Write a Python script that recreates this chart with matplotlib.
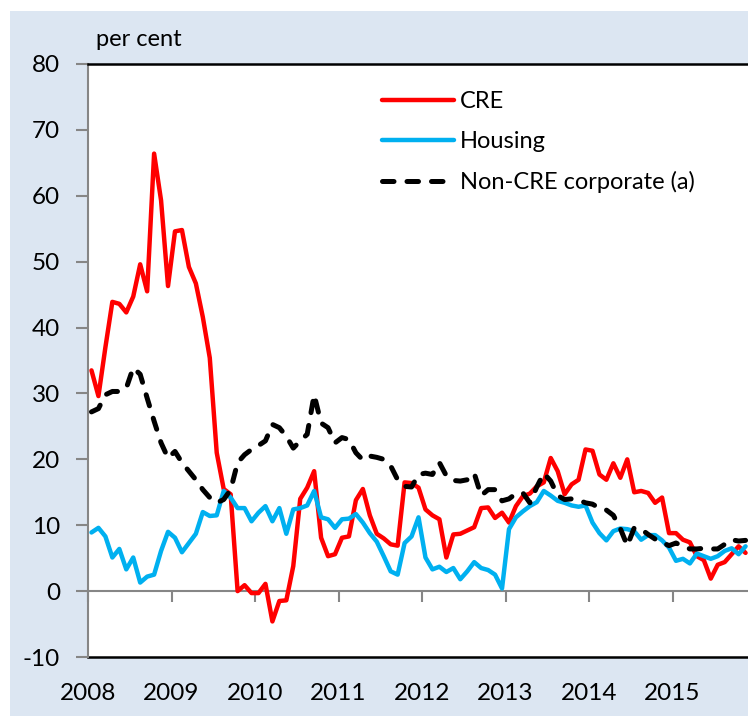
import numpy as np
import pandas as pd
import matplotlib
matplotlib.use('Agg')
import matplotlib.pyplot as plt
from matplotlib.patches import Rectangle

plt.rcParams['font.family'] = ['Lato', 'DejaVu Sans']
plt.rcParams['axes.unicode_minus'] = False

# Monthly series, Jan 2008 - Nov 2015 (per cent)
dates = pd.date_range('2008-01-01', periods=95, freq='MS')

cre = [33.5, 29.6, 37.0, 43.9, 43.6, 42.3, 44.7, 49.6, 45.5, 66.4, 59.3, 46.3,
       54.6, 54.8, 49.2, 46.7, 41.6, 35.4, 21.0, 15.5, 14.7, 0.0, 0.9, -0.3,
       -0.3, 1.1, -4.6, -1.5, -1.4, 3.8, 14.0, 15.7, 18.2, 8.1, 5.3, 5.6,
       8.1, 8.3, 13.8, 15.5, 11.5, 8.7, 8.0, 7.1, 6.9, 16.5, 16.4, 15.7,
       12.4, 11.5, 10.9, 5.1, 8.6, 8.7, 9.2, 9.7, 12.6, 12.7, 11.1, 11.9,
       10.4, 12.9, 14.4, 14.8, 15.9, 16.5, 20.2, 18.2, 14.7, 16.2, 16.9, 21.5,
       21.3, 17.7, 16.9, 19.4, 17.2, 20.0, 15.0, 15.2, 14.9, 13.4, 14.2, 8.8,
       8.8, 7.8, 7.4, 5.3, 4.7, 1.9, 4.0, 4.4, 5.6, 6.8, 5.8]

housing = [8.9, 9.6, 8.3, 5.1, 6.4, 3.3, 5.1, 1.3, 2.2, 2.5, 6.1, 9.0,
           8.1, 5.9, 7.3, 8.7, 12.0, 11.4, 11.5, 15.2, 14.2, 12.6, 12.6, 10.6,
           11.9, 12.9, 10.6, 12.6, 8.7, 12.4, 12.6, 13.0, 15.2, 11.2, 10.9, 9.6,
           10.9, 11.0, 11.7, 10.4, 8.8, 7.5, 5.3, 3.0, 2.5, 7.3, 8.3, 11.2,
           5.1, 3.3, 3.7, 2.9, 3.5, 1.8, 3.0, 4.4, 3.5, 3.2, 2.5, 0.4,
           9.4, 11.2, 12.1, 12.9, 13.5, 15.2, 14.5, 13.7, 13.4, 13.0, 12.8, 13.0,
           10.4, 8.8, 7.7, 9.1, 9.5, 9.4, 9.1, 7.8, 8.5, 8.5, 7.7, 6.6,
           4.6, 4.9, 4.2, 5.7, 5.3, 4.9, 5.3, 6.1, 6.5, 5.6, 6.8]

noncre = [27.2, 27.7, 29.8, 30.3, 30.3, 30.8, 33.9, 32.9, 29.3, 25.8, 22.5, 20.2,
          21.2, 19.5, 18.2, 16.9, 15.4, 14.2, 13.4, 13.9, 15.4, 19.5, 20.7, 21.5,
          22.1, 22.8, 25.3, 24.8, 23.5, 21.7, 22.8, 23.8, 29.8, 25.5, 24.8, 22.5,
          23.3, 23.0, 21.0, 19.9, 20.5, 20.3, 20.0, 19.0, 16.9, 15.9, 15.8, 17.7,
          17.9, 17.7, 19.5, 17.5, 16.8, 16.7, 16.9, 17.9, 14.5, 15.4, 15.4, 13.7,
          14.0, 14.8, 14.9, 13.4, 15.8, 17.9, 16.7, 14.5, 13.9, 14.0, 13.8, 13.4,
          13.2, 12.6, 12.3, 11.5, 9.5, 6.9, 9.6, 9.4, 8.6, 7.9, 7.4, 6.9,
          7.3, 6.8, 6.4, 6.4, 6.5, 6.4, 6.4, 7.1, 7.8, 7.6, 7.7]

years = list(range(2008, 2016))
yticks = list(range(-10, 81, 10))

# mid-month positions in decimal years
x = dates.year + (dates.month - 0.5) / 12

fig = plt.figure(figsize=(7.48, 7.16), dpi=100)
fig.patch.set_facecolor('white')
bg = Rectangle((10/748, 0), 1, 705/716, transform=fig.transFigure,
               facecolor='#DCE6F2', edgecolor='none', zorder=-5)
fig.add_artist(bg)

ax = fig.add_axes([88/748, 59/716, 1 - 88/748, 593/716])
ax.set_facecolor('white')

ax.plot(x, cre, color='#FF0000', lw=3.2, label='CRE', zorder=3,
        solid_joinstyle='round', solid_capstyle='round')
ax.plot(x, housing, color='#00B0F0', lw=3.2, label='Housing', zorder=3,
        solid_joinstyle='round', solid_capstyle='round')
ax.plot(x, noncre, color='black', lw=3.6, ls=(0, (2.3, 2.6)), label='Non-CRE corporate (a)',
        zorder=3, dash_capstyle='round', dash_joinstyle='round')

ax.set_xlim(2008, 2008 + 660/83.5)
ax.set_ylim(-10, 80)

# spines: black frame top/bottom, grey axis lines
ax.spines['right'].set_visible(False)
ax.spines['top'].set_color('black')
ax.spines['top'].set_linewidth(1.8)
ax.spines['left'].set_color('#868686')
ax.spines['left'].set_linewidth(1.5)
ax.spines['bottom'].set_position(('data', 0))
ax.spines['bottom'].set_color('#868686')
ax.spines['bottom'].set_linewidth(1.5)
ax.plot([0, 1], [0, 0], transform=ax.transAxes, color='black', lw=1.8, clip_on=False)

ax.set_yticks(yticks)
ax.set_xticks(years)
ax.set_xticklabels([str(y) for y in years])
ax.tick_params(axis='y', direction='out', length=9, width=1.5, color='#868686',
               pad=11, labelsize=17.5)
ax.tick_params(axis='x', direction='out', length=8, width=1.5, color='#868686',
               pad=58, labelsize=17.5)

fig.text(96/748, 1 - 46/716, 'per cent', fontsize=17, va='baseline', ha='left')

ax.legend(loc='upper left', bbox_to_anchor=(382/748, 1 - 91/716),
          bbox_transform=fig.transFigure, frameon=False, fontsize=17,
          handlelength=3.05, handletextpad=0.25, labelspacing=0.8,
          borderpad=0, borderaxespad=0)

fig.savefig('out.png', dpi=100)
